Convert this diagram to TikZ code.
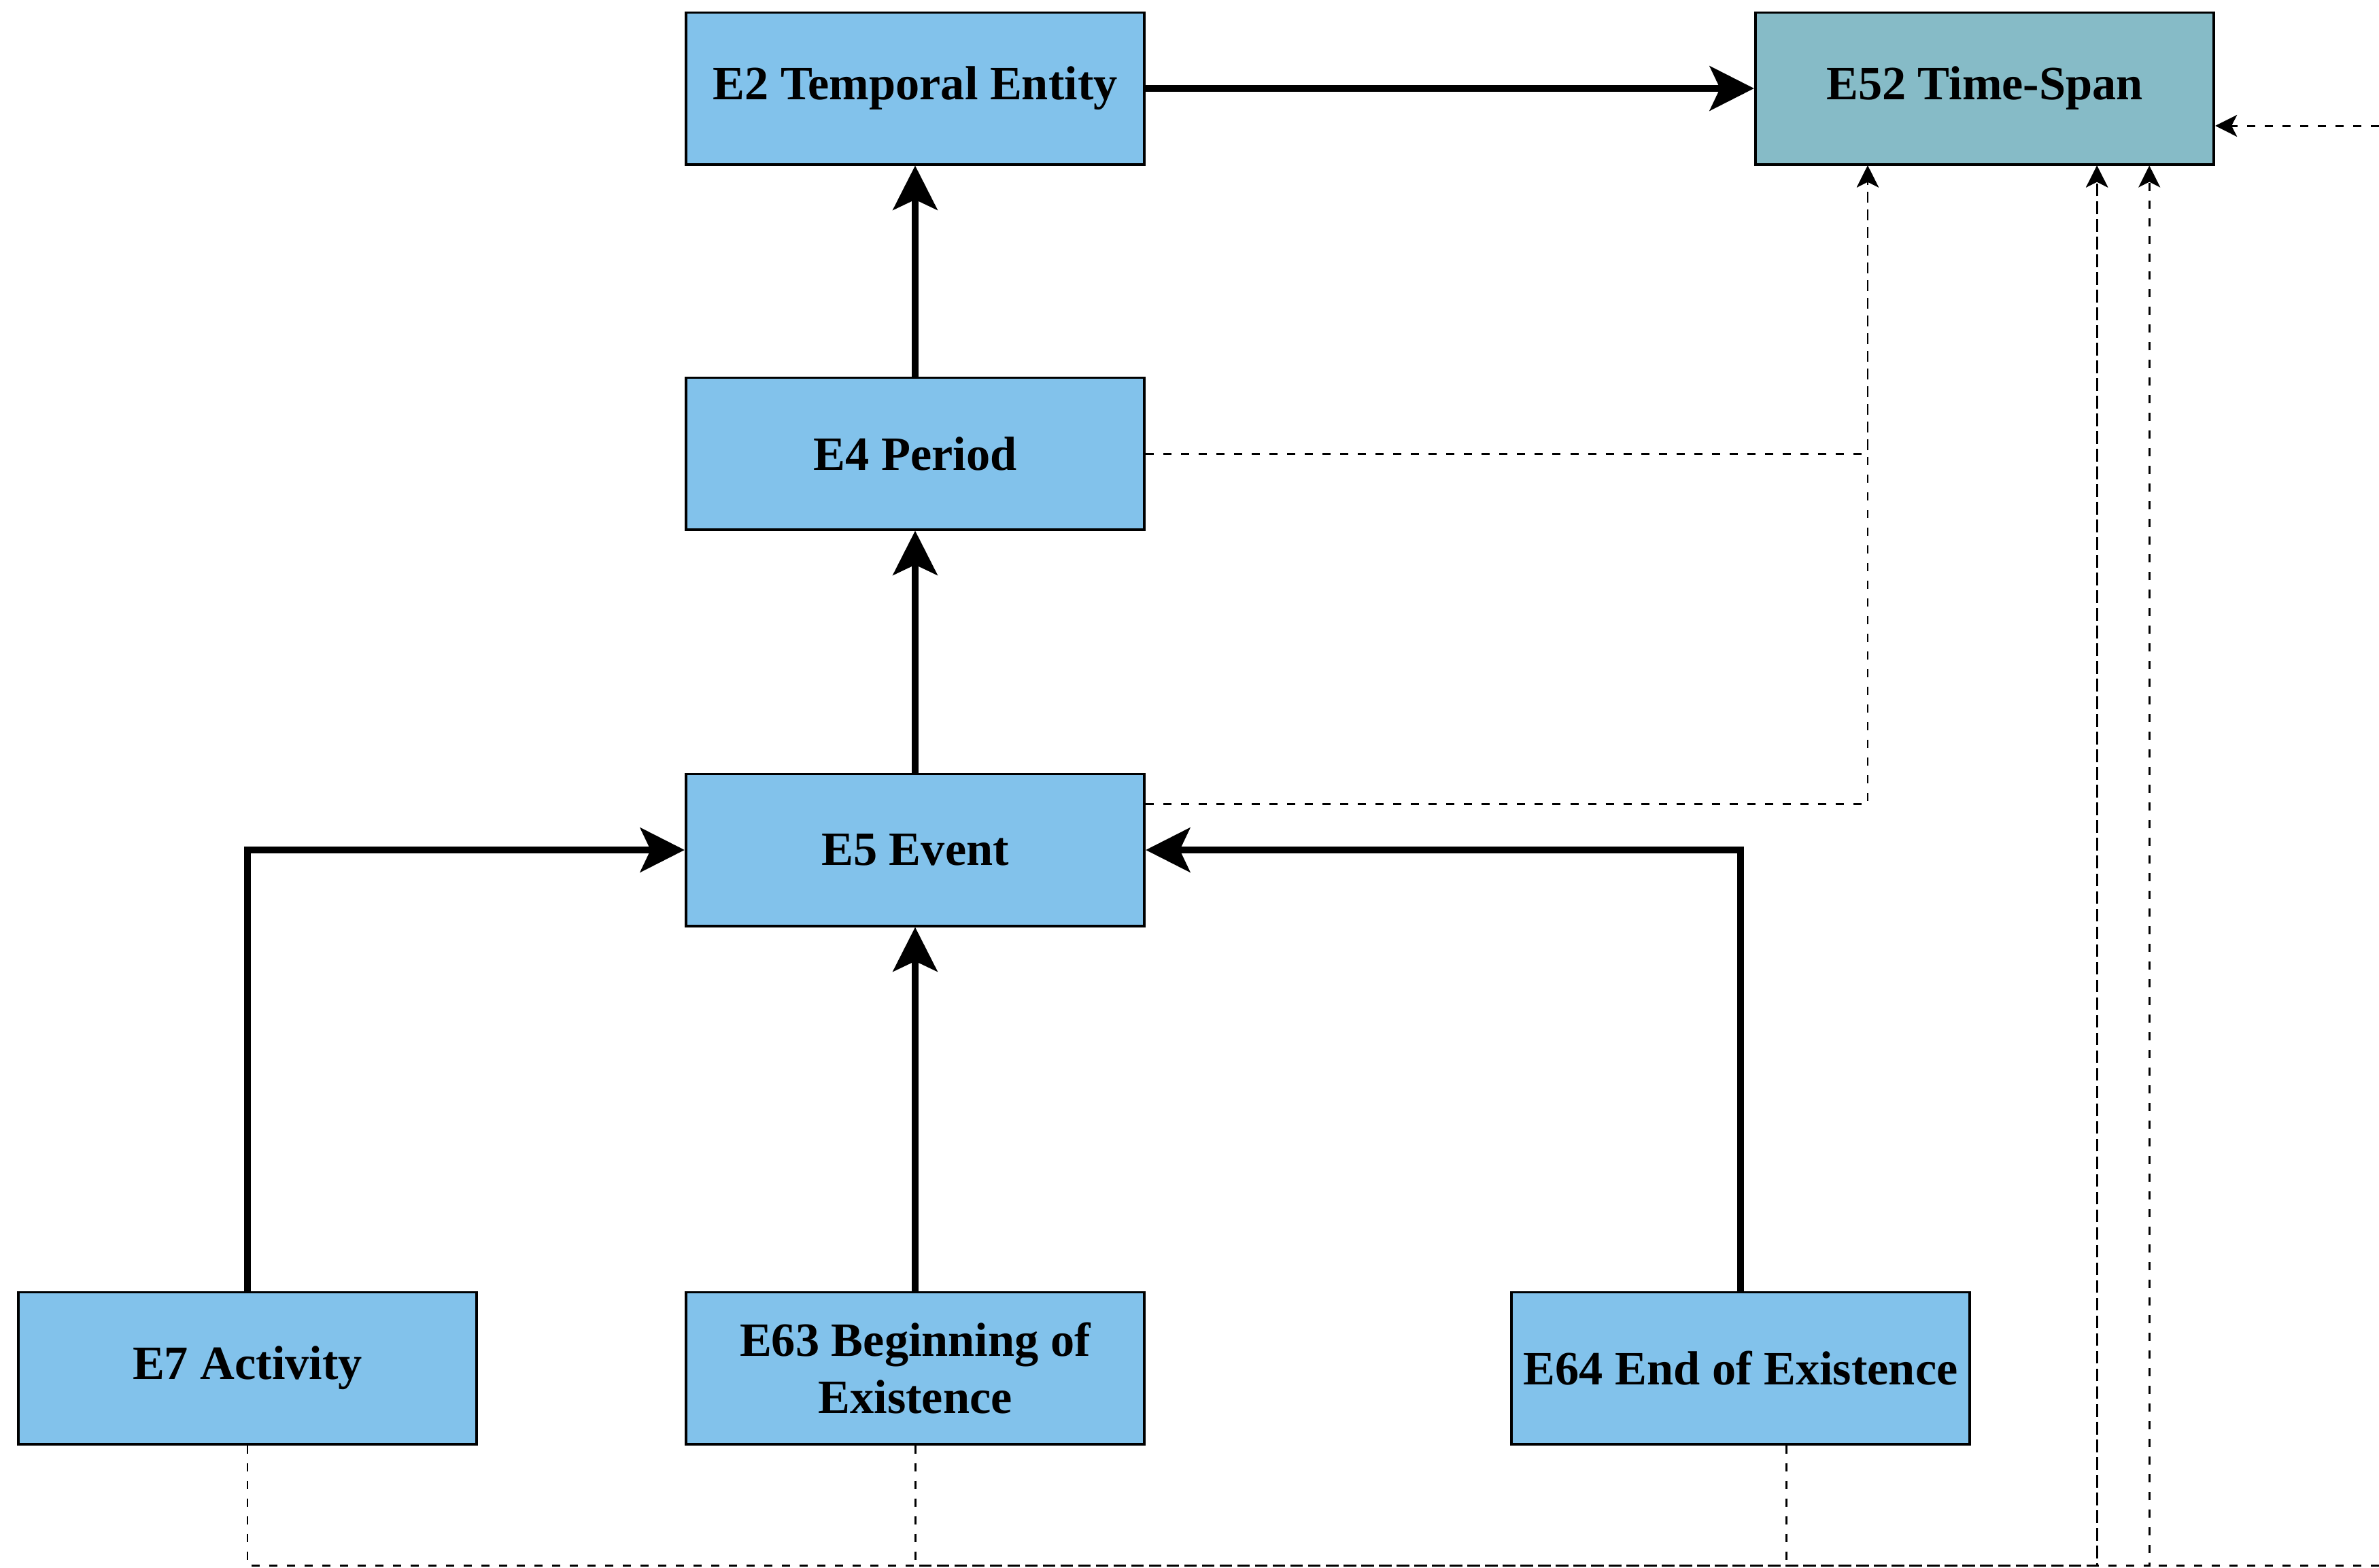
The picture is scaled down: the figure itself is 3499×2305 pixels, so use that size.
\documentclass[tikz,border=0pt]{standalone}
\usepackage{fontspec}
\setmainfont{Liberation Serif}
\usetikzlibrary{arrows.meta}

\definecolor{classblue}{RGB}{130,194,235}
\definecolor{spanteal}{RGB}{134,187,199}

\tikzset{
  cls/.style={draw=black, line width=1.1pt, fill=classblue,
    minimum width=6.74cm, minimum height=2.23cm, inner sep=0pt,
    font=\fontsize{20}{24}\selectfont\bfseries, align=center},
  isa/.style={line width=3pt,
    -{Stealth[length=0.65cm,width=0.65cm,inset=0.15cm]}},
  link/.style={line width=0.85pt, dash pattern=on 0.12cm off 0.14cm},
  linkarrow/.style={link,
    -{Stealth[length=0.32cm,width=0.32cm,inset=0.08cm]}},
}

\begin{document}
\begin{tikzpicture}[x=0.01cm, y=-0.01cm]
  \useasboundingbox (0,0) rectangle (3499,2305);

  % class boxes
  \node[cls] (e2)  at (1346,130)  {E2 Temporal Entity};
  \node[cls, fill=spanteal] (e52) at (2919,130) {E52 Time-Span};
  \node[cls] (e4)  at (1346,667)  {E4 Period};
  \node[cls] (e5)  at (1346,1250) {E5 Event};
  \node[cls] (e7)  at (364,2012)  {E7 Activity};
  \node[cls] (e63) at (1346,2012) {E63 Beginning of\\Existence};
  \node[cls] (e64) at (2560,2012) {E64 End of Existence};

  % subclass hierarchy
  \draw[isa] (e2) -- (e52);
  \draw[isa] (e4) -- (e2);
  \draw[isa] (e5) -- (e4);
  \draw[isa] (e63) -- (e5);
  \draw[isa] (e7.north) |- (e5.west);
  \draw[isa] (e64.north) |- (e5.east);

  % entry points on the time-span box
  \coordinate (tsa) at ([xshift=1.67cm]e52.south west);
  \coordinate (tsb) at ([xshift=5.04cm]e52.south west);
  \coordinate (tsc) at ([xshift=5.81cm]e52.south west);

  % bottom bus and open ends at the right border
  \coordinate (bus) at (0,2302);
  \coordinate (rb) at (3499,2302);
  \coordinate (rt) at (3499,185);
  \coordinate (e64out) at ([xshift=0.67cm]e64.south);

  % time-span links
  \draw[linkarrow] (e4.east) -| (tsa);
  \draw[linkarrow] ([yshift=0.67cm]e5.east) -| (tsa);
  \draw[linkarrow] (e7.south) -- (e7.south |- bus) -| (tsb);
  \draw[linkarrow] (e63.south) -- (e63.south |- bus) -| (tsb);
  \draw[linkarrow] (e64out) -- (e64out |- bus) -| (tsc);
  \draw[link] (rb) -- (tsc |- bus);
  \draw[linkarrow] (rt) -- (e52.east |- rt);
\end{tikzpicture}
\end{document}
